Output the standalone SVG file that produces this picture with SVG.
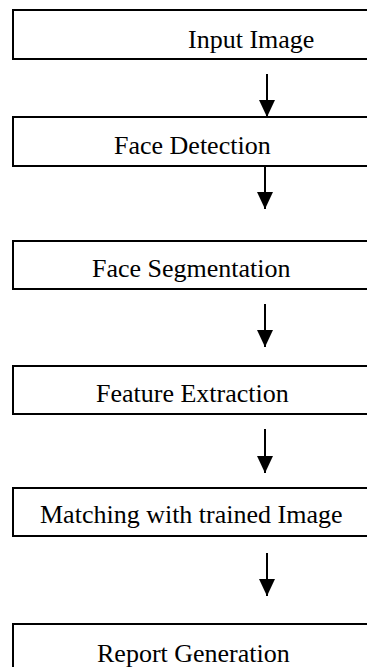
<svg xmlns="http://www.w3.org/2000/svg" width="367" height="667" viewBox="0 0 367 667">
<style>
.box{fill:#fff;stroke:#000;stroke-width:2}
.lbl{font-size:26px;fill:#000}
.conn{stroke:#000;stroke-width:2;fill:none}
</style>
<defs>
<marker id="arrow" markerUnits="userSpaceOnUse" markerWidth="17" markerHeight="16" refX="17" refY="8" orient="auto" viewBox="0 0 17 16">
<path d="M0,0 L17,8 L0,16 Z" fill="#000"/>
</marker>
</defs>
<rect width="367" height="667" fill="#fff"/>
<g id="connectors">
<line class="conn" x1="267" y1="74" x2="267" y2="117" marker-end="url(#arrow)"/>
<line class="conn" x1="265" y1="166" x2="265" y2="209" marker-end="url(#arrow)"/>
<line class="conn" x1="265" y1="304" x2="265" y2="347" marker-end="url(#arrow)"/>
<line class="conn" x1="265" y1="429" x2="265" y2="473" marker-end="url(#arrow)"/>
<line class="conn" x1="267" y1="553" x2="267" y2="596" marker-end="url(#arrow)"/>
</g>
<g font-family="'Liberation Serif', 'Times New Roman', serif">
<g id="n1">
<rect class="box" x="13" y="10" width="370" height="49"/>
<text class="lbl" x="188" y="48">Input Image</text>
</g>
<g id="n2">
<rect class="box" x="13" y="117" width="370" height="49"/>
<text class="lbl" x="114" y="154">Face Detection</text>
</g>
<g id="n3">
<rect class="box" x="13" y="241" width="370" height="48"/>
<text class="lbl" x="92" y="277">Face Segmentation</text>
</g>
<g id="n4">
<rect class="box" x="13" y="366" width="370" height="48"/>
<text class="lbl" x="96" y="402">Feature Extraction</text>
</g>
<g id="n5">
<rect class="box" x="13" y="488" width="370" height="48"/>
<text class="lbl" x="40" y="523">Matching with trained Image</text>
</g>
<g id="n6">
<rect class="box" x="13" y="624" width="370" height="60"/>
<text class="lbl" x="97" y="662">Report Generation</text>
</g>
</g>
</svg>
